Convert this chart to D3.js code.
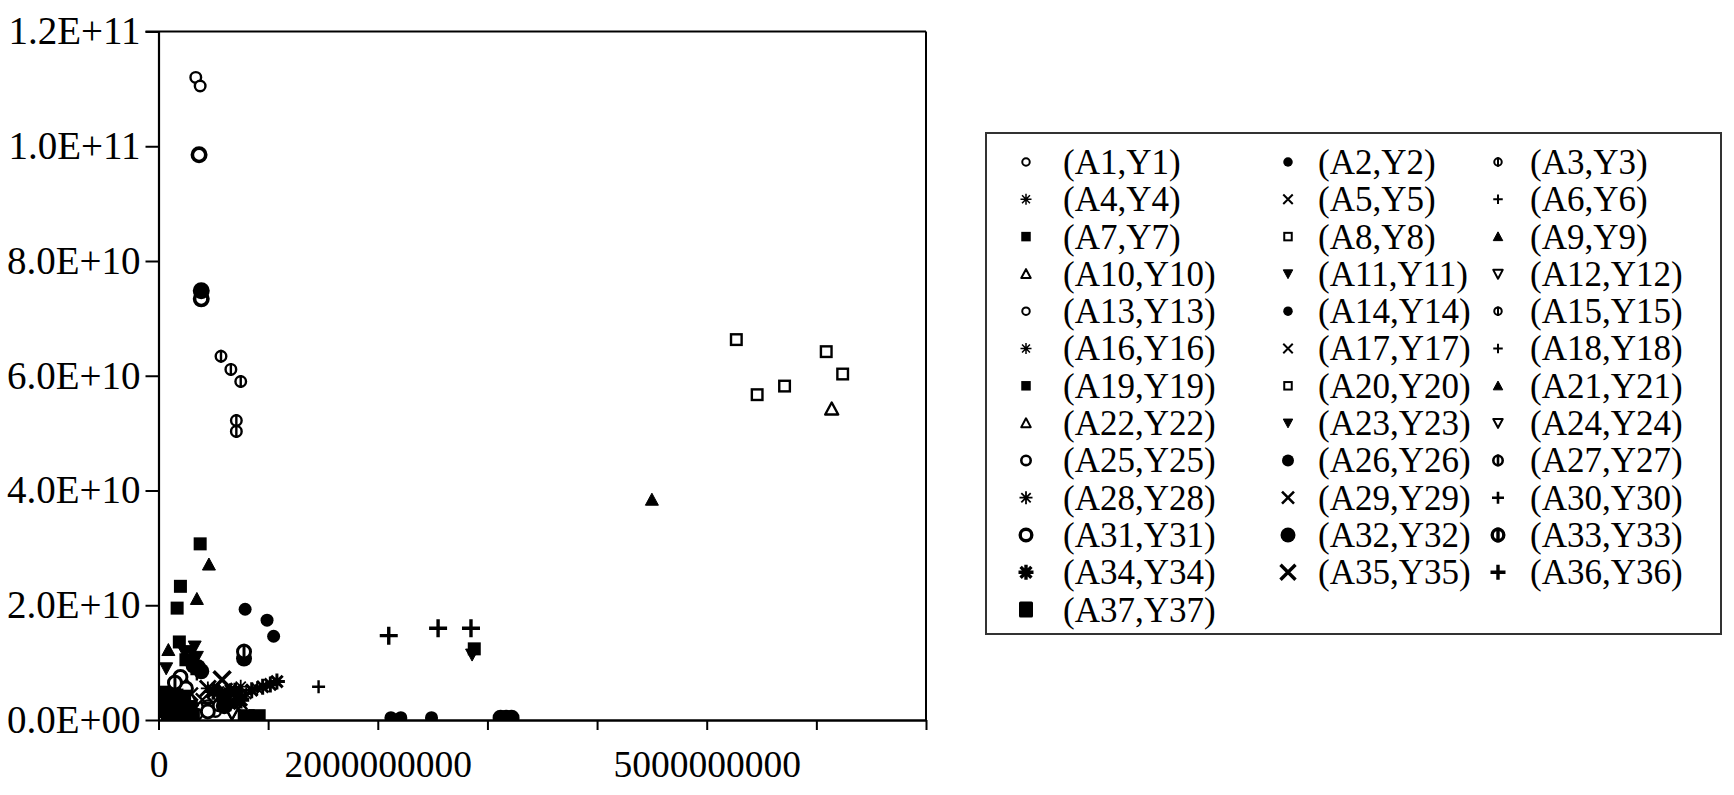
<!DOCTYPE html>
<html>
<head>
<meta charset="utf-8">
<script src="https://cdn.jsdelivr.net/npm/d3@7"></script>
<style>
  html, body { margin: 0; padding: 0; background: #fff; }
  svg { display: block; }
  text { font-family: "Liberation Serif", "Times New Roman", serif; fill: #000; }
</style>
</head>
<body>
<svg id="chart" width="1734" height="795"></svg>
<script>
// ---------- DATA ----------
const seriesNames = [
  "(A1,Y1)","(A2,Y2)","(A3,Y3)","(A4,Y4)","(A5,Y5)","(A6,Y6)",
  "(A7,Y7)","(A8,Y8)","(A9,Y9)","(A10,Y10)","(A11,Y11)","(A12,Y12)",
  "(A13,Y13)","(A14,Y14)","(A15,Y15)","(A16,Y16)","(A17,Y17)","(A18,Y18)",
  "(A19,Y19)","(A20,Y20)","(A21,Y21)","(A22,Y22)","(A23,Y23)","(A24,Y24)",
  "(A25,Y25)","(A26,Y26)","(A27,Y27)","(A28,Y28)","(A29,Y29)","(A30,Y30)",
  "(A31,Y31)","(A32,Y32)","(A33,Y33)","(A34,Y34)","(A35,Y35)","(A36,Y36)",
  "(A37,Y37)"
];

// each point: [A, Y]
const s1  = [[3.4e8,1.12e11],[3.8e8,1.105e11],[4.5e8,2.5e9],[5.2e8,1.5e9]];
const s2  = [[7.9e8,1.93e10],[9.9e8,1.74e10],[1.05e9,1.46e10]];
const s3  = [[5.7e8,6.34e10],[6.6e8,6.11e10],[7.5e8,5.90e10]];
const s4  = [[4.5e8,5.5e9],[5.5e8,5.0e9],[6.5e8,5.2e9],[7.5e8,5.8e9]];
const s5  = [[3.0e8,4.5e9],[4.0e8,3.5e9],[5.0e8,3.0e9],[7.0e8,2.5e9]];
const s6  = [[1.46e9,5.8e9],[3.5e8,8.0e9]];
const s7  = [[3.8e8,3.07e10],[2.0e8,2.33e10],[1.7e8,1.95e10]];
const s8  = [[5.27e9,6.63e10],[5.46e9,5.67e10],[5.71e9,5.82e10]];
const s9  = [[4.50e9,3.84e10],[4.6e8,2.71e10]];
const s10 = [[6.14e9,5.42e10],[3.0e8,3.5e9]];
const s11 = [[3.3e8,1.28e10],[2.4e8,1.17e10],[7.0e7,9.0e9],[3.0e8,1.2e10]];
const s12 = [[6.7e8,1.2e9],[4.5e8,2.0e9]];
const s13 = [[1.8e8,7.2e9],[2.2e8,6.5e9],[5.5e8,2.5e9],[3.5e8,1.0e9]];
const s14 = [[2.12e9,4.0e8],[2.21e9,4.0e8],[2.49e9,4.0e8]];
const s15 = [[7.1e8,5.22e10],[7.1e8,5.03e10]];
const s16 = [[6.0e8,4.5e9],[7.0e8,4.0e9],[8.0e8,4.5e9],[9.0e8,5.5e9]];
const s17 = [[5.5e8,4.0e9],[6.5e8,3.5e9],[7.5e8,3.0e9]];
const s18 = [[2.5e8,6.0e9],[6.0e8,3.0e9]];
const s19 = [[2.88e9,1.24e10],[1.9e8,1.36e10],[2.5e8,1.05e10]];
const s20 = [[6.09e9,6.42e10],[6.24e9,6.03e10]];
const s21 = [[3.5e8,2.11e10],[9.0e7,1.22e10]];
const s22 = [[2.0e8,6.0e9]];
const s23 = [[2.86e9,1.14e10],[2.8e8,1.05e10],[3.0e8,9.5e9],[3.5e8,1.1e10]];
const s24 = [[6.7e8,1.2e9]];
const s25 = [[2.0e8,7.5e9],[2.5e8,5.5e9],[4.5e8,1.5e9]];
const s26 = [[7.8e8,1.07e10],[3.6e8,9.2e9],[3.9e8,8.5e9],[3.2e8,9.5e9],[3.12e9,4.0e8],[3.17e9,4.0e8],[3.22e9,4.0e8]];
const s27 = [[7.8e8,1.19e10],[1.5e8,6.5e9]];
const s28 = [[8.5e8,5.2e9],[9.5e8,5.8e9],[1.02e9,6.2e9],[1.08e9,6.7e9]];
const s29 = [[4.5e8,5.5e9],[6.0e8,5.0e9]];
const s30 = [[2.10e9,1.47e10],[2.55e9,1.60e10],[2.85e9,1.60e10]];
const s31 = [[3.7e8,9.85e10],[3.9e8,7.34e10]];
const s32 = [[3.9e8,7.48e10],[7.0e8,4.5e9],[6.0e8,2.5e9]];
const s33 = [[6.5e8,4.0e9]];
const s34 = [[5.0e8,5.0e9],[7.0e8,5.0e9],[6.2e8,4.2e9],[6.5e8,3.0e9],[7.5e8,3.5e9]];
const s35 = [[5.8e8,7.0e9]];
const s36 = [[5.5e8,4.5e9]];
const s37 = [[5.0e7,3.5e9],[1.2e8,3.0e9],[2.0e8,2.5e9],[1.0e8,1.0e9],[2.5e8,1.2e9],[3.0e8,5.0e8],
             [3.0e7,4.5e9],[1.5e8,4.0e9],[2.2e8,3.8e9],[5.0e7,1.8e9],[1.8e8,1.5e9],[2.8e8,2.0e9],
             [8.0e8,4.0e8],[9.0e8,4.0e8]];

const seriesPoints = [s1,s2,s3,s4,s5,s6,s7,s8,s9,s10,s11,s12,s13,s14,s15,s16,s17,s18,
  s19,s20,s21,s22,s23,s24,s25,s26,s27,s28,s29,s30,s31,s32,s33,s34,s35,s36,s37];

const xTickValues = [0,1e9,2e9,3e9,4e9,5e9,6e9,7e9];
const xTickLabels = ["0","","2000000000","","","5000000000","",""];
const yTickValues = [0,2e10,4e10,6e10,8e10,1e11,1.2e11];
const yTickLabels = ["0.0E+00","2.0E+10","4.0E+10","6.0E+10","8.0E+10","1.0E+11","1.2E+11"];

// ---------- LAYOUT ----------
const plot = {left: 158.5, right: 926, top: 31.5, bottom: 720};
const svg = d3.select("#chart");

const x = d3.scaleLinear().domain([0, 7e9]).range([plot.left, plot.right]);
const y = d3.scaleLinear().domain([0, 1.2e11]).range([plot.bottom, plot.top]);

const shapeCycle12 = ["circle","dot","phi","asterisk","x","plus","fsquare","osquare","ftri","otri","fdown","odown"];
const shapeCycle6 = ["circle","dot","phi","asterisk","x","plus"];

function shapeFor(i) {
  if (i === 36) return "fsquare";
  if (i < 24) return shapeCycle12[i % 12];
  return shapeCycle6[(i - 24) % 6];
}

function styleFor(i, legend) {
  const shape = shapeFor(i);
  if (i === 36) return legend ? {s: 14, w: 2} : {s: 17, w: 2};
  if (i >= 30) return legend ? {s: 15, w: 3.4} : {s: 17, w: 3.6};
  if (i >= 24) {
    if (legend) return shape === "asterisk" ? {s: 13, w: 1.8} : {s: 12, w: 2.6};
    return shape === "plus" ? {s: 18, w: 3.4} : {s: 16, w: 3.0};
  }
  if (legend) return shape === "asterisk" ? {s: 11, w: 1.5} : {s: 9.5, w: 2};
  return shape === "asterisk" ? {s: 14, w: 1.8} : {s: 13, w: 2.4};
}

function drawMarker(g, shape, s, w) {
  const h = s / 2;
  const p = d3.path();
  let filled = false;
  switch (shape) {
    case "circle":
      g.append("circle").attr("r", h - w/2).attr("fill", "#fff").attr("stroke", "#000").attr("stroke-width", w);
      return;
    case "dot":
      g.append("circle").attr("r", h).attr("fill", "#000");
      return;
    case "phi":
      g.append("circle").attr("r", h - w/2).attr("fill", "#fff").attr("stroke", "#000").attr("stroke-width", w);
      g.append("line").attr("x1", 0).attr("x2", 0).attr("y1", -h).attr("y2", h).attr("stroke", "#000").attr("stroke-width", w);
      return;
    case "asterisk": {
      const d = h * 0.72;
      p.moveTo(0,-h); p.lineTo(0,h);
      p.moveTo(-h,0); p.lineTo(h,0);
      p.moveTo(-d,-d); p.lineTo(d,d);
      p.moveTo(-d,d); p.lineTo(d,-d);
      break; }
    case "x":
      p.moveTo(-h,-h); p.lineTo(h,h); p.moveTo(-h,h); p.lineTo(h,-h);
      break;
    case "plus":
      p.moveTo(0,-h); p.lineTo(0,h); p.moveTo(-h,0); p.lineTo(h,0);
      break;
    case "fsquare":
      g.append("rect").attr("x",-h).attr("y",-h).attr("width",s).attr("height",s).attr("fill","#000");
      return;
    case "osquare":
      g.append("rect").attr("x",-h+w/2).attr("y",-h+w/2).attr("width",s-w).attr("height",s-w)
        .attr("fill","#fff").attr("stroke","#000").attr("stroke-width",w);
      return;
    case "ftri": case "otri":
      p.moveTo(0,-h); p.lineTo(h,h*0.85); p.lineTo(-h,h*0.85); p.closePath();
      filled = shape === "ftri";
      break;
    case "fdown": case "odown":
      p.moveTo(0,h); p.lineTo(h,-h*0.85); p.lineTo(-h,-h*0.85); p.closePath();
      filled = shape === "fdown";
      break;
  }
  g.append("path").attr("d", p.toString())
    .attr("fill", filled ? "#000" : (shape.startsWith("o") ? "#fff" : "none"))
    .attr("stroke", "#000").attr("stroke-width", filled ? 1 : w)
    .attr("stroke-linejoin", "round");
}

// ---------- POINTS ----------
svg.append("clipPath").attr("id","plotclip").append("rect")
  .attr("x", plot.left).attr("y", plot.top)
  .attr("width", plot.right - plot.left).attr("height", plot.bottom - plot.top);

const pointsLayer = svg.append("g").attr("clip-path","url(#plotclip)");
seriesPoints.forEach((pts, i) => {
  const shape = shapeFor(i);
  const st = styleFor(i, false);
  const sg = pointsLayer.append("g").attr("class","series");
  pts.forEach(d => {
    const g = sg.append("g").attr("transform", `translate(${x(d[0])},${y(d[1])})`);
    drawMarker(g, shape, st.s, st.w);
  });
});

// ---------- FRAME & AXES ----------
svg.append("line").attr("x1", plot.left - 13).attr("x2", plot.right).attr("y1", plot.top).attr("y2", plot.top)
  .attr("stroke","#000").attr("stroke-width",2);
svg.append("line").attr("x1", plot.right).attr("x2", plot.right).attr("y1", plot.top).attr("y2", plot.bottom)
  .attr("stroke","#000").attr("stroke-width",2);

const yAxis = d3.axisLeft(y).tickValues(yTickValues)
  .tickFormat((d,i) => yTickLabels[i]).tickSize(13).tickSizeOuter(0).tickPadding(5);
const yg = svg.append("g").attr("transform", `translate(${plot.left},0)`).call(yAxis);
yg.selectAll("path.domain").attr("stroke","#000").attr("stroke-width",2.2);
yg.selectAll(".tick line").attr("stroke","#000").attr("stroke-width",2);
yg.selectAll(".tick text").attr("font-family","Liberation Serif, serif").attr("font-size",39).attr("fill","#000");

const xAxis = d3.axisBottom(x).tickValues(xTickValues)
  .tickFormat((d,i) => xTickLabels[i]).tickSize(10).tickSizeOuter(0).tickPadding(20);
const xg = svg.append("g").attr("transform", `translate(0,${plot.bottom})`).call(xAxis);
xg.selectAll("path.domain").attr("stroke","#000").attr("stroke-width",2.6);
xg.selectAll(".tick line").attr("stroke","#000").attr("stroke-width",2);
xg.selectAll(".tick text").attr("font-family","Liberation Serif, serif").attr("font-size",37.5).attr("fill","#000");

// ---------- LEGEND ----------
const legendBox = {left: 986, top: 133, right: 1721, bottom: 634};
svg.append("rect").attr("x", legendBox.left).attr("y", legendBox.top)
  .attr("width", legendBox.right - legendBox.left).attr("height", legendBox.bottom - legendBox.top)
  .attr("fill","#fff").attr("stroke","#333").attr("stroke-width",2);

const colMarkerX = [1026, 1288, 1498];
const colTextX = [1063, 1318, 1530];
const rowY0 = 162, rowStep = 37.3;

seriesNames.forEach((name, i) => {
  const col = i % 3, row = Math.floor(i / 3);
  const cy = rowY0 + row * rowStep;
  const shape = shapeFor(i);
  const st = styleFor(i, true);
  const g = svg.append("g").attr("transform", `translate(${colMarkerX[col]},${cy})`);
  if (i === 36) {
    g.append("rect").attr("x",-7).attr("y",-8).attr("width",14).attr("height",16).attr("rx",1.5).attr("fill","#000");
  } else {
    drawMarker(g, shape, st.s, st.w);
  }
  svg.append("text").attr("x", colTextX[col]).attr("y", cy).attr("dy","0.34em")
    .attr("font-size", 35).text(name);
});
</script>
</body>
</html>
